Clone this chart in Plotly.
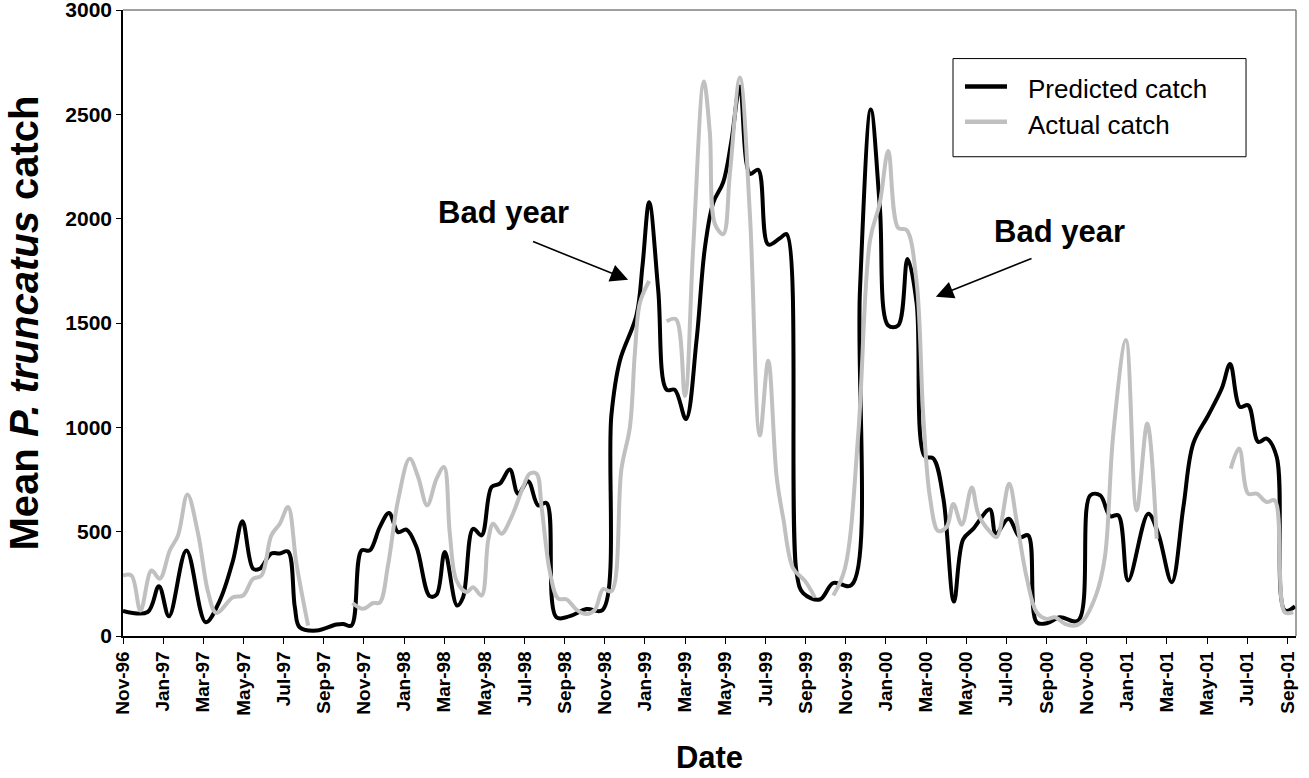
import plotly.graph_objects as go

# ---- data (time in months since 1 Nov 1996) ----
tick_labels = ["Nov-96", "Jan-97", "Mar-97", "May-97", "Jul-97", "Sep-97", "Nov-97",
               "Jan-98", "Mar-98", "May-98", "Jul-98", "Sep-98", "Nov-98",
               "Jan-99", "Mar-99", "May-99", "Jul-99", "Sep-99", "Nov-99",
               "Jan-00", "Mar-00", "May-00", "Jul-00", "Sep-00", "Nov-00",
               "Jan-01", "Mar-01", "May-01", "Jul-01", "Sep-01"]

pred_t = [0.0, 1.23, 1.79, 2.29, 3.16, 4.12, 4.82, 5.48, 5.95, 6.48, 6.81, 7.39, 7.81, 8.22,
          8.56, 8.80, 9.64, 10.63, 10.96, 11.38, 11.88, 12.29, 12.79, 13.25, 13.70, 14.12,
          14.62, 15.28, 15.62, 16.03, 16.64, 16.94, 17.44, 17.86, 18.36, 18.77, 19.27, 19.68,
          20.18, 20.68, 21.10, 21.59, 22.26, 23.09, 23.89, 24.33, 24.75, 25.58, 25.88, 26.21,
          26.66, 27.08, 27.49, 28.04, 28.57, 28.98, 29.40, 29.90, 30.31, 30.73, 31.23, 31.64,
          32.14, 32.72, 33.05, 33.55, 33.88, 34.71, 35.38, 36.29, 36.71, 37.25, 37.70, 38.12,
          38.61, 39.08, 39.53, 39.94, 40.36, 40.86, 41.39, 41.85, 42.35, 43.18, 43.48, 44.11,
          44.68, 45.09, 45.51, 46.01, 46.67, 47.58, 48.18, 48.68, 49.17, 49.58, 50.07, 51.07,
          51.57, 52.24, 52.82, 53.31, 54.06, 54.73, 55.15, 55.64, 56.05, 56.55, 56.97, 57.47,
          57.88, 58.38]
pred_v = [120, 115, 239, 95, 410, 66, 170, 362, 550, 322, 322, 395, 395, 405,
          138, 42, 26, 55, 58, 50, 410, 410, 522, 590, 498, 510,
          426, 191, 198, 402, 146, 186, 514, 482, 714, 730, 798, 682,
          742, 626, 637, 90, 95, 129, 125, 1060, 1319, 1538, 1777, 2079,
          1658, 1180, 1180, 1040, 1418, 1856, 2076, 2175, 2374, 2633, 2215, 2234,
          1876, 1906, 1926, 305, 205, 175, 254, 244, 1658, 2523, 2055, 1488,
          1488, 1807, 1597, 861, 851, 662, 165, 463, 513, 607, 490, 562,
          474, 482, 66, 61, 90, 74, 674, 674, 574, 578, 266, 586,
          490, 258, 618, 922, 1058, 1186, 1303, 1098, 1106, 930, 946, 858,
          122, 142]

# None marks a gap in the observed series
act_t = [0.0, 0.42, 0.87, 1.42, 1.83, 2.33, 2.74, 3.21, 3.74, 4.24, 4.65, 5.48, 5.98, 6.48,
         6.90, 7.39, 7.81, 8.22, 8.64, 9.22, 10.3,
         11.43, 11.96, 12.46, 12.79, 13.20, 13.70, 14.28, 14.70, 15.15, 15.62, 15.99, 16.28,
         16.61, 17.11, 17.44, 17.86, 18.19, 18.44, 18.85, 19.35, 19.93, 20.26, 20.60, 20.85,
         21.26, 21.67, 22.10, 22.60, 23.09, 23.50, 23.92, 24.33, 24.83, 25.25, 25.50, 25.75,
         26.21, 26.6,
         27.08, 27.54, 27.99, 28.40, 28.93, 29.23, 29.48, 29.90, 30.23, 30.73, 31.23, 31.72,
         32.14, 32.56, 32.89, 33.38, 33.97, 34.46, 34.9,
         35.38, 35.96, 36.62, 37.21, 37.70, 38.12, 38.61, 39.03, 39.53, 39.86, 40.20, 40.61,
         41.03, 41.36, 41.78, 42.28, 42.61, 43.18, 43.52, 44.14, 44.51, 45.01, 45.51, 46.01,
         46.42, 46.92, 47.42, 47.83, 48.49, 48.91, 49.33, 49.96, 50.49, 51.02, 51.49, 53.0,
         55.18, 55.60, 56.05, 56.47, 56.97, 57.37, 57.87, 58.29]
act_v = [290, 290, 122, 314, 274, 410, 482, 678, 490, 210, 110, 186, 194, 274,
         290, 482, 538, 618, 346, 50, None,
         158, 130, 158, 160, 338, 650, 850, 762, 626, 754, 810, 490,
         266, 210, 234, 194, 458, 538, 490, 570, 714, 778, 778, 618,
         310, 180, 175, 125, 105, 125, 225, 215, 802, 1001, 1359, 1597,
         1701, None,
         1508, 1518, 1150, 1856, 2657, 2414, 1976, 1926, 2215, 2676, 2016, 961,
         1319, 762, 563, 324, 264, 185, None,
         194, 324, 961, 1896, 2076, 2324, 1956, 1946, 1697, 1060, 662, 503,
         523, 633, 533, 712, 583, 500, 474, 730, 554, 282, 114, 82,
         90, 58, 50, 74, 202, 378, 970, 1418, 602, 1018, 466, None,
         802, 898, 682, 682, 642, 650, 114, 114]

series_names = ["Predicted catch", "Actual catch"]
series_colors = ["#000000", "#c0c0c0"]

FONT = "Liberation Sans, Arial, sans-serif"

fig = go.Figure()
fig.add_trace(go.Scatter(x=pred_t, y=pred_v, mode="lines", name=series_names[0],
                         line=dict(color=series_colors[0], width=4, shape="spline", smoothing=1.0)))
fig.add_trace(go.Scatter(x=act_t, y=act_v, mode="lines", name=series_names[1],
                         line=dict(color=series_colors[1], width=4, shape="spline", smoothing=1.0),
                         connectgaps=False))

# gray top / right frame lines
fig.add_shape(type="line", xref="paper", yref="paper", x0=0, x1=1, y0=1, y1=1,
              line=dict(color="#808080", width=1.5), layer="above")
fig.add_shape(type="line", xref="paper", yref="paper", x0=1, x1=1, y0=0, y1=1,
              line=dict(color="#808080", width=1.5), layer="above")

# legend box (drawn manually to match the original proportions)
fig.add_shape(type="rect", xref="paper", yref="paper", x0=0.7076, x1=0.9574, y0=0.7656, y1=0.9224,
              line=dict(color="black", width=1), fillcolor="white", layer="above")
for i, (nm, col) in enumerate(zip(series_names, series_colors)):
    yy = [0.8776, 0.8216][i]
    fig.add_shape(type="line", xref="paper", yref="paper", x0=0.7178, x1=0.7536, y0=yy, y1=yy,
                  line=dict(color=col, width=4.5), layer="above")
    fig.add_annotation(x=0.7698, y=[0.8744, 0.8168][i], xref="paper", yref="paper", text=nm,
                       showarrow=False, xanchor="left", yanchor="middle",
                       font=dict(family=FONT, size=26, color="black"))

# annotations
fig.add_annotation(x=18.96, y=2030, xref="x", yref="y", text="<b>Bad year</b>",
                   showarrow=False, font=dict(family=FONT, size=31, color="black"))
fig.add_annotation(x=46.67, y=1939, xref="x", yref="y", text="<b>Bad year</b>",
                   showarrow=False, font=dict(family=FONT, size=31, color="black"))
fig.add_annotation(x=25.16, y=1707, ax=20.35, ay=1893, xref="x", yref="y", axref="x", ayref="y",
                   text="", showarrow=True, arrowhead=2, arrowsize=2.2, arrowwidth=1.6,
                   arrowcolor="black")
fig.add_annotation(x=40.49, y=1626, ax=45.33, ay=1812, xref="x", yref="y", axref="x", ayref="y",
                   text="", showarrow=True, arrowhead=2, arrowsize=2.2, arrowwidth=1.6,
                   arrowcolor="black")

fig.update_layout(
    width=1309, height=778,
    margin=dict(l=123, r=13, t=10, b=142),
    paper_bgcolor="white", plot_bgcolor="white",
    font=dict(family=FONT, color="black"),
    showlegend=False,
    xaxis=dict(range=[0, 58.43], tickmode="array",
               tickvals=[2 * i for i in range(len(tick_labels))], ticktext=tick_labels,
               tickangle=-90, ticks="outside", ticklen=6, tickwidth=1, tickcolor="black",
               showline=True, linecolor="black", linewidth=1.5, showgrid=False, zeroline=False,
               tickfont=dict(family=FONT, size=19, color="black", weight="bold"),
               ticklabeloverflow="allow",
               title=dict(text="<b>Date</b>", standoff=32,
                          font=dict(family=FONT, size=31, color="black")),
               automargin=False),
    yaxis=dict(range=[0, 3000], dtick=500, ticks="outside", ticklen=5, tickwidth=1,
               tickcolor="black", showline=True, linecolor="black", linewidth=1.5,
               showgrid=False, zeroline=False,
               tickfont=dict(family=FONT, size=21, color="black", weight="bold"),
               ticklabeloverflow="allow",
               title=dict(text="<b>Mean <i>P. truncatus</i> catch</b>", standoff=14,
                          font=dict(family=FONT, size=40, color="black")),
               automargin=False),
)

# remove the browser's default 8px page margin so the figure fills the window exactly
fig.write_html("out.html", config={"displayModeBar": False},
               post_script="document.body.style.margin='0px';")
